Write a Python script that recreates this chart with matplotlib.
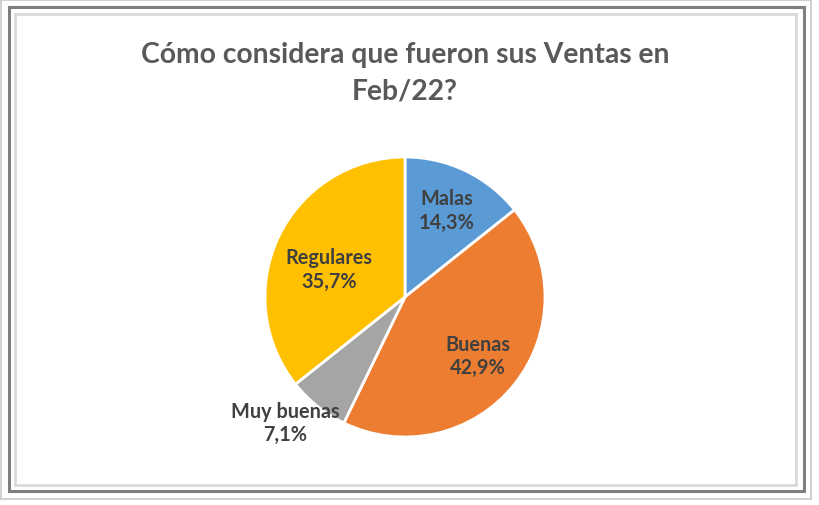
import numpy as np
import matplotlib.pyplot as plt
from matplotlib.patches import Rectangle

# data
categories = ['Malas', 'Buenas', 'Muy buenas', 'Regulares']
values = [14.3, 42.9, 7.1, 35.7]
colors = ['#5B9BD5', '#ED7D31', '#A5A5A5', '#FFC000']
title = 'Cómo considera que fueron sus Ventas en\nFeb/22?'

# label placement (radius fraction, angle nudge in degrees), like Excel "best fit"
label_dist = [0.69, 0.67, 1.24, 0.58]
label_turn = [0, 0, -5, 5.5]

W, H = 819, 506
fig = plt.figure(figsize=(W / 100, H / 100), dpi=100)
fig.patch.set_facecolor('white')

# frame: light / dark / light lines
def frame(x0, y0, x1, y1, color, lw):
    fig.patches.append(Rectangle((x0 / W, 1 - y1 / H), (x1 - x0) / W, (y1 - y0) / H,
                                 transform=fig.transFigure, fill=False,
                                 edgecolor=color, linewidth=lw))

frame(1, 1, 811, 500, '#C8C8C8', 1.2)
frame(9, 8, 804, 492, '#7F7F7F', 2.2)
frame(15, 15, 796, 486, '#D9D9D9', 2.0)

fig.text(405 / W, 1 - 73 / H, title, ha='center', va='center', fontsize=20.3,
         fontweight='bold', color='#595959', family='Lato', linespacing=1.5)

cx, cy, r = 405, 298, 140
ax = fig.add_axes([(cx - r) / W, (H - cy - r) / H, 2 * r / W, 2 * r / H])
wedges, _ = ax.pie(values, colors=colors, startangle=90, counterclock=False,
                   radius=1, wedgeprops=dict(edgecolor='white', linewidth=2))
ax.set_xlim(-1, 1)
ax.set_ylim(-1, 1)
ax.set_aspect('equal')
ax.axis('off')

for w, name, v, d, t in zip(wedges, categories, values, label_dist, label_turn):
    ang = np.deg2rad((w.theta1 + w.theta2) / 2 + t)
    x, y = d * np.cos(ang), d * np.sin(ang)
    ax.text(x, y, f'{name}\n{v:.1f}%'.replace('.', ','), ha='center', va='center',
            fontsize=14.3, fontweight='bold', color='#404040', family='Lato',
            linespacing=1.2, clip_on=False)

fig.savefig('out.png', dpi=100)
